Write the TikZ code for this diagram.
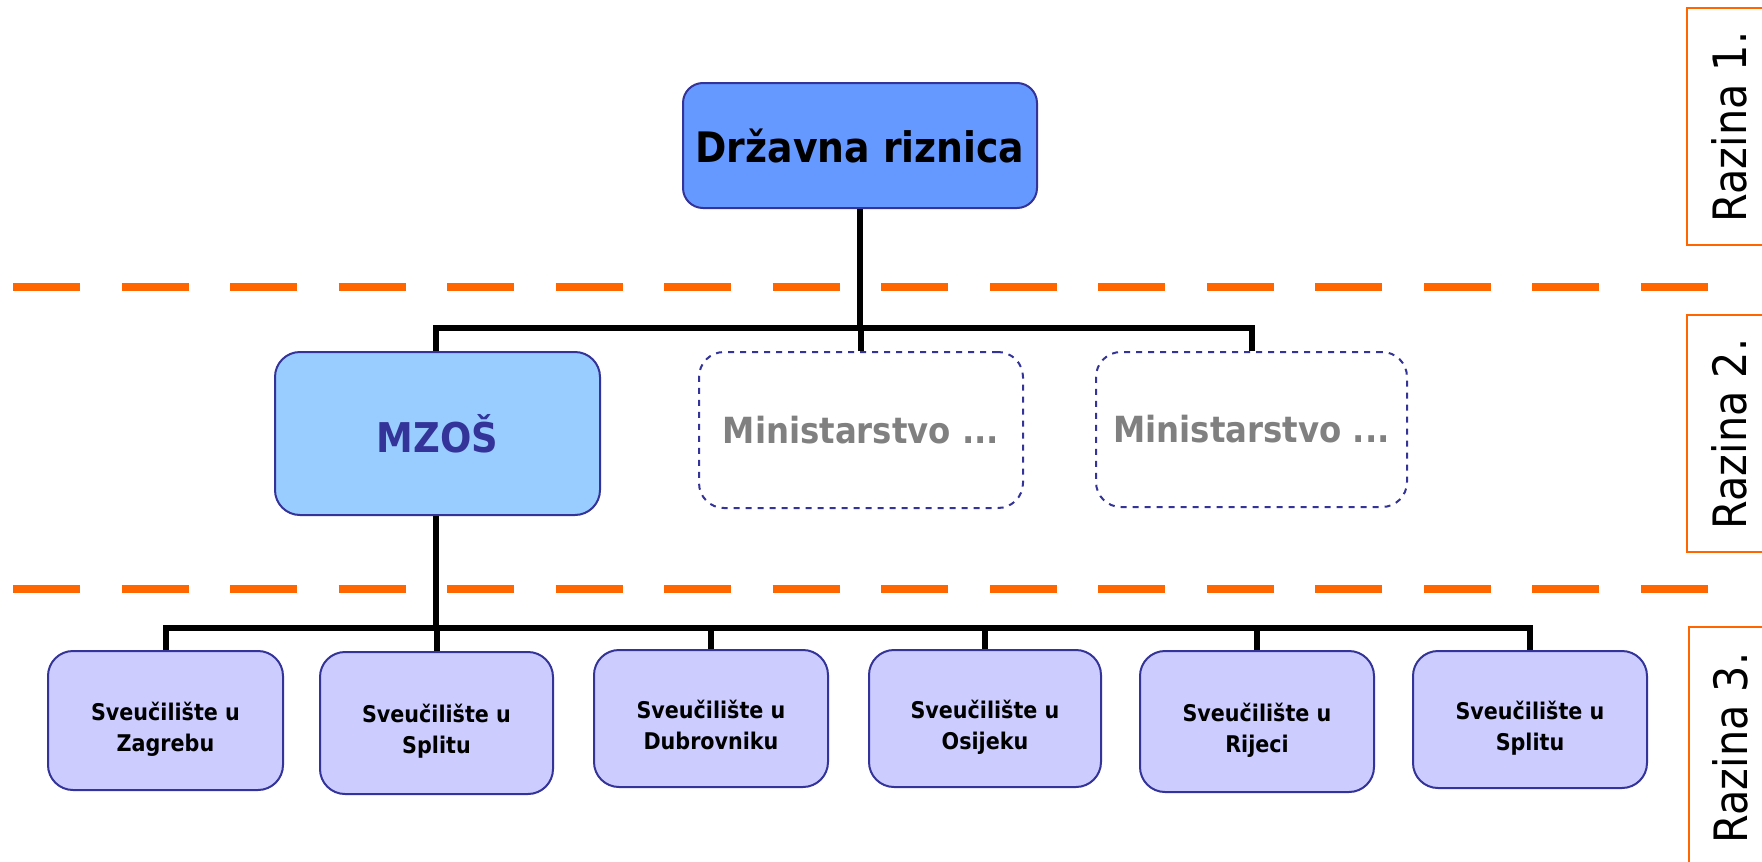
\documentclass[tikz,border=0pt]{standalone}
\usepackage{fontspec}
\setmainfont{DejaVu Sans Condensed}
\definecolor{rizC}{HTML}{6699FF}
\definecolor{mzosC}{HTML}{99CCFF}
\definecolor{uniC}{HTML}{CCCCFF}
\definecolor{navyC}{HTML}{333399}
\definecolor{orangeC}{HTML}{FF6600}
\definecolor{grayT}{HTML}{808080}
\newcommand\unitext[2]{\raisebox{-4.5pt}[\height][\depth]{\begin{tabular}{@{}c@{}}#1\\#2\end{tabular}}}
\begin{document}
\begin{tikzpicture}[x=0.5pt,y=-0.5pt,
  conn/.style={line width=3pt, black},
  sepline/.style={draw=orangeC, line width=4pt, dash pattern=on 33.5pt off 20.765pt},
  box/.style={draw=navyC, line width=1pt, rounded corners=12.5pt, align=center, inner sep=0pt},
  rizbox/.style={box, fill=rizC, rounded corners=10pt, minimum width=177pt, minimum height=62.5pt,
     font=\bfseries\fontsize{21}{25}\selectfont},
  mzosbox/.style={box, fill=mzosC, minimum width=162.5pt, minimum height=81.5pt,
     text=navyC, font=\bfseries\fontsize{20.5}{24}\selectfont},
  minbox/.style={box, dashed, fill=white, text=grayT, font=\bfseries\fontsize{18}{22}\selectfont},
  unibox/.style={box, fill=uniC, font=\bfseries\fontsize{11.5}{15.5}\selectfont},
  razframe/.style={draw=orangeC, line width=1pt},
  raztext/.style={rotate=90, inner sep=0pt, font=\fontsize{23}{27}\selectfont}
]
\useasboundingbox (0,0) rectangle (1762,862);

% level separators
\draw[sepline] (13,287) -- (1708,287);
\draw[sepline] (13,589) -- (1708,589);

% level frames
\draw[razframe] (1775,8) -- (1687,8) -- (1687,245) -- (1775,245);
\draw[razframe] (1775,315) -- (1687,315) -- (1687,552) -- (1775,552);
\draw[razframe] (1775,627) -- (1689,627) -- (1689,880);
\node[raztext] (r1) at (1729,127) {Razina 1.};
\node[raztext] (r2) at (1729,434) {Razina 2.};
\node[raztext] (r3) at (1730,748) {Razina 3.};

% nodes
\node[rizbox] (riz) at (860,145.5) {Državna riznica};
\node[mzosbox] (mzos) at (437.5,433.5) {MZOŠ};
\node[minbox, minimum width=162pt, minimum height=78pt] (min1) at (861,430) {Ministarstvo ...};
\node[minbox, minimum width=155.5pt, minimum height=77.5pt] (min2) at (1251.5,429.5) {Ministarstvo ...};

\node[unibox, minimum width=117.5pt, minimum height=69.5pt] (u1) at (165.5,720.5) {\unitext{Sveučilište u}{Zagrebu}};
\node[unibox, minimum width=116.5pt, minimum height=71pt] (u2) at (436.5,723) {\unitext{Sveučilište u}{Splitu}};
\node[unibox, minimum width=117pt, minimum height=68.5pt] (u3) at (711,718.5) {\unitext{Sveučilište u}{Dubrovniku}};
\node[unibox, minimum width=116pt, minimum height=68.5pt] (u4) at (985,718.5) {\unitext{Sveučilište u}{Osijeku}};
\node[unibox, minimum width=117pt, minimum height=70.5pt] (u5) at (1257,721.5) {\unitext{Sveučilište u}{Rijeci}};
\node[unibox, minimum width=117pt, minimum height=68.5pt] (u6) at (1530,719.5) {\unitext{Sveučilište u}{Splitu}};

% connectors level 1 -> 2
\coordinate (bus1) at (0,328);
\coordinate (bus2) at (0,628);
\draw[conn] (riz.south) -- (riz.south |- bus1);
\draw[conn] ([xshift=-0.75pt]mzos.north) -- ([xshift=-0.75pt]mzos.north |- bus1) -- (min2.north |- bus1) -- (min2.north);
\draw[conn] (min1.north) -- (min1.north |- bus1);

% connectors level 2 -> 3
\draw[conn] ([xshift=-0.75pt]mzos.south) -- ([xshift=-0.75pt]mzos.south |- bus2);
\draw[conn] (u1.north) -- (u1.north |- bus2) -- (u6.north |- bus2) -- (u6.north);
\foreach \u in {u2,u3,u4,u5} {
  \draw[conn] (\u.north) -- (\u.north |- bus2);
}
\end{tikzpicture}
\end{document}
